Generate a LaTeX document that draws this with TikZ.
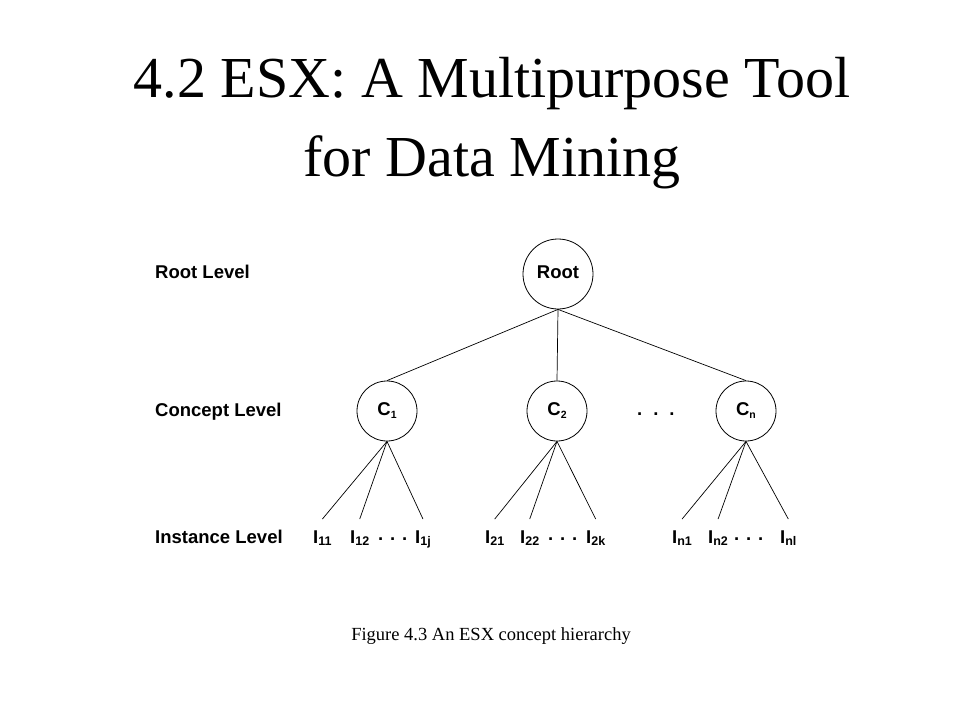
\documentclass[tikz,border=0pt]{standalone}
\usepackage{fontspec}
\setmainfont{Liberation Serif}
\newfontfamily\arialfont{Liberation Sans}
\newcommand{\lab}{\arialfont\bfseries\fontsize{18.5bp}{20bp}\selectfont}
\newcommand{\csub}[1]{\raisebox{-3bp}{\fontsize{10.5bp}{11bp}\selectfont #1}}
\newcommand{\isub}[1]{\raisebox{-2.5bp}{\fontsize{12.5bp}{13bp}\selectfont #1}}
\begin{document}
\begin{tikzpicture}[x=1bp,y=-1bp,
  levellabel/.style={anchor=base west,inner sep=0pt,font=\lab},
  bigcircle/.style={circle,draw=black,line width=0.8bp,minimum size=70bp,inner sep=0pt,font=\lab,text height=13bp,text depth=5bp},
  smallcircle/.style={circle,draw=black,line width=0.8bp,minimum size=60bp,inner sep=0pt,font=\lab},
  inst/.style={anchor=base west,inner xsep=0pt,inner ysep=11bp,font=\lab},
  dotsnode/.style={anchor=base west,inner sep=0pt,font=\lab},
  edge/.style={draw=black,line width=0.7bp}]
\useasboundingbox (0,0) rectangle (960,720);
\fill[white] (0,0) rectangle (960,720);
% title
\node[anchor=base,inner sep=0pt,font=\fontsize{58bp}{60bp}\selectfont] (title1) at (492,98) {4.2 ESX: A Multipurpose Tool};
\node[anchor=base,inner sep=0pt,font=\fontsize{58bp}{60bp}\selectfont] (title2) at (492,177) {for Data Mining};
% level labels
\node[levellabel] (lroot) at (155,278) {Root Level};
\node[levellabel] (lconcept) at (155,416) {Concept Level};
\node[levellabel] (linst) at (155,543) {Instance Level};
% nodes
\node[bigcircle] (root) at (558,274) {Root};
\node[smallcircle] (c1) at (387,411) {C\csub{1}};
\node[smallcircle] (c2) at (557,411) {C\csub{2}};
\node[smallcircle] (cn) at (746,411) {C\csub{n}};
\node[dotsnode] (cdots) at (637,415) {.\hspace{11bp}.\hspace{11bp}.};
% instances
\node[inst] (i11) at (313,543) {I\isub{11}};
\node[inst] (i12) at (350,543) {I\isub{12}};
\node[dotsnode] (d1) at (378,540) {. . .};
\node[inst] (i1j) at (415,543) {I\isub{1j}};
\node[inst] (i21) at (485,543) {I\isub{21}};
\node[inst] (i22) at (520,543) {I\isub{22}};
\node[dotsnode] (d2) at (548,540) {. . .};
\node[inst] (i2k) at (586,543) {I\isub{2k}};
\node[inst] (in1) at (672,543) {I\isub{n1}};
\node[inst] (in2) at (708,543) {I\isub{n2}};
\node[dotsnode] (d3) at (734,540) {. . .};
\node[inst] (inl) at (780,543) {I\isub{nl}};
% edges
\draw[edge] (root.south) -- (c1.north);
\draw[edge] (root.south) -- (c2.north);
\draw[edge] (root.south) -- (cn.north);
\draw[edge] (c1.south) -- (i11.north);
\draw[edge] (c1.south) -- (i12.north);
\draw[edge] (c1.south) -- (i1j.north);
\draw[edge] (c2.south) -- (i21.north);
\draw[edge] (c2.south) -- (i22.north);
\draw[edge] (c2.south) -- (i2k.north);
\draw[edge] (cn.south) -- (in1.north);
\draw[edge] (cn.south) -- (in2.north);
\draw[edge] (cn.south) -- (inl.north);
% caption
\node[anchor=base,inner sep=0pt,font=\fontsize{18.5bp}{20bp}\selectfont] (caption) at (491,640) {Figure 4.3 An ESX concept hierarchy};
\end{tikzpicture}
\end{document}
